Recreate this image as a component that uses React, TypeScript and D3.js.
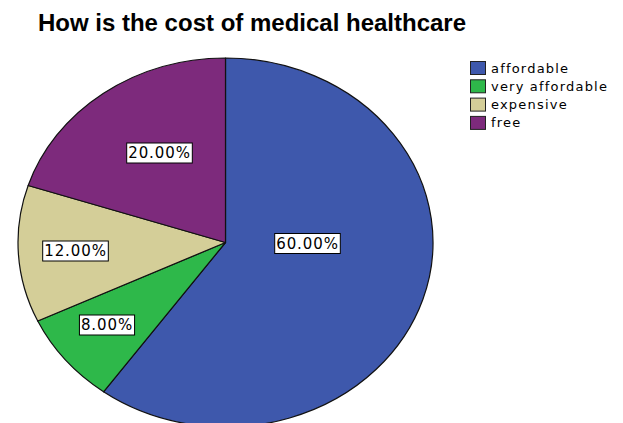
import { useEffect, useRef } from "react";
import * as d3 from "d3";

// data
const categories = ["affordable", "very affordable", "expensive", "free"];
const percents = [60, 8, 12, 20];
const colors = ["#3e58ac", "#2eb84a", "#d4ce98", "#7d2a7c"];
const title = "How is the cost of medical healthcare";

// layout
const W = 623;
const H = 423;
const cx = 225.5;
const cy = 242.5;
const rx = 207.5;
const ry = 184.5;
// label box centers relative to the pie center (SPSS places them by its own rule)
const labelOffsets: [number, number][] = [
  [82, 1],
  [-118.5, 82.5],
  [-150, 8.5],
  [-66, -89.5],
];

export default function App() {
  const svgRef = useRef<SVGSVGElement>(null);

  useEffect(() => {
    if (!svgRef.current) return;
    const svg = d3.select(svgRef.current);
    svg.selectAll("*").remove();

    svg
      .append("rect")
      .attr("width", W)
      .attr("height", H)
      .attr("fill", "#ffffff");

    // Title
    svg
      .append("text")
      .attr("x", 252)
      .attr("y", 31)
      .attr("text-anchor", "middle")
      .attr("font-family", "Liberation Sans, Arial, sans-serif")
      .attr("font-weight", "bold")
      .attr("font-size", 24)
      .attr("fill", "#000")
      .text(title);

    const data = categories.map((c, i) => ({ name: c, value: percents[i], color: colors[i] }));

    const pie = d3
      .pie<any>()
      .sort(null)
      .value((d) => d.value);

    const arc = d3.arc<any>().innerRadius(0).outerRadius(ry);

    const g = svg
      .append("g")
      .attr("transform", `translate(${cx},${cy}) scale(${rx / ry},1)`);

    g.selectAll("path")
      .data(pie(data))
      .enter()
      .append("path")
      .attr("d", arc)
      .attr("fill", (d) => d.data.color)
      .attr("stroke", "#111")
      .attr("stroke-width", 1.2)
      .attr("stroke-linejoin", "round")
      .attr("vector-effect", "non-scaling-stroke");

    // percentage labels in white boxes
    const labels = svg.append("g");
    data.forEach((d, i) => {
      const [dx, dy] = labelOffsets[i];
      const lg = labels.append("g").attr("transform", `translate(${cx + dx},${cy + dy})`);
      const rect = lg.append("rect");
      const t = lg
        .append("text")
        .attr("text-anchor", "middle")
        .attr("dy", "0.36em")
        .attr("font-family", "DejaVu Sans, sans-serif")
        .attr("font-size", 15)
        .attr("letter-spacing", 0.9)
        .attr("fill", "#000")
        .text(`${d.value.toFixed(2)}%`);
      const w = (t.node() as SVGTextElement).getComputedTextLength() + 3;
      rect
        .attr("x", -w / 2)
        .attr("y", -10)
        .attr("width", w)
        .attr("height", 20)
        .attr("fill", "#fff")
        .attr("stroke", "#000")
        .attr("stroke-width", 1);
    });

    // Legend
    const legend = svg.append("g").attr("transform", "translate(470,61)");
    const item = legend
      .selectAll("g")
      .data(data)
      .enter()
      .append("g")
      .attr("transform", (_d, i) => `translate(0,${i * 18.3})`);

    item
      .append("rect")
      .attr("x", 0.5)
      .attr("y", 0.5)
      .attr("width", 15)
      .attr("height", 13)
      .attr("fill", (d) => d.color)
      .attr("stroke", "#222")
      .attr("stroke-width", 1);

    item
      .append("text")
      .attr("x", 21)
      .attr("y", 11.5)
      .attr("font-family", "DejaVu Sans, sans-serif")
      .attr("font-size", 13)
      .attr("letter-spacing", 1.2)
      .attr("fill", "#000")
      .text((d) => d.name);
  }, []);

  return (
    <svg
      ref={svgRef}
      width={W}
      height={H}
      style={{ position: "fixed", left: 0, top: 0, display: "block" }}
    />
  );
}
